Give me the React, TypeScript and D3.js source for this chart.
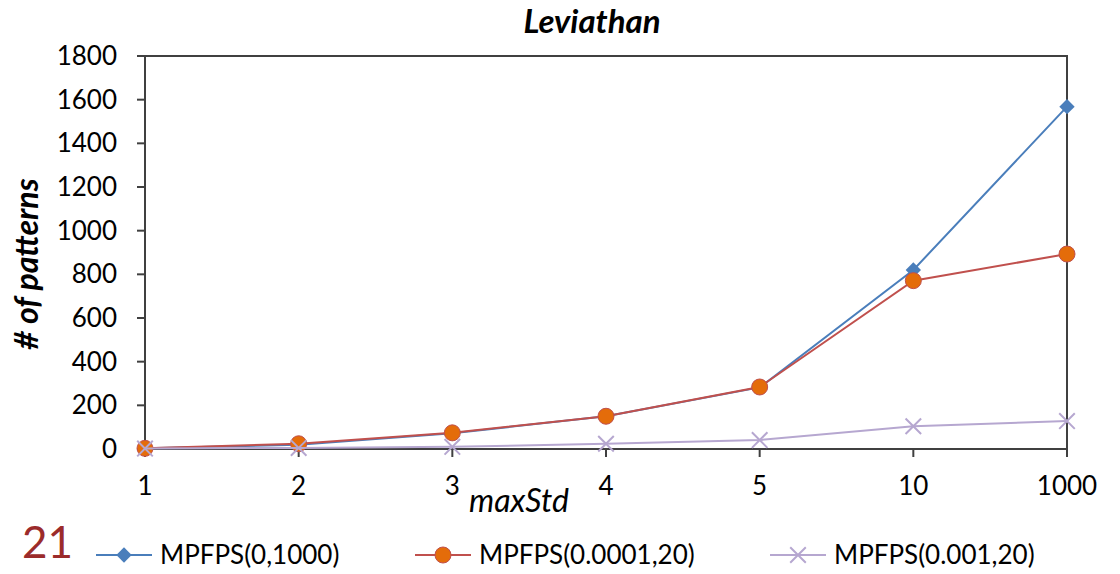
import React from "react";
import * as d3 from "d3";

const categories = ["1", "2", "3", "4", "5", "10", "1000"];
const seriesNames = ["MPFPS(0,1000)", "MPFPS(0.0001,20)", "MPFPS(0.001,20)"];
const blueValues = [3, 20, 72, 150, 282, 820, 1568];
const orangeValues = [3, 24, 74, 150, 284, 771, 893];
const purpleValues = [2, 5, 10, 24, 41, 104, 128];
const yTicks = [0, 200, 400, 600, 800, 1000, 1200, 1400, 1600, 1800];

const font = "Lato, 'Open Sans', sans-serif";
const axisColor = "#404040";

const margin = { top: 56, right: 53, bottom: 125, left: 145 };
const width = 1120 - margin.left - margin.right;
const height = 574 - margin.top - margin.bottom;

function App() {
  const x = d3.scalePoint().domain(categories).range([0, width]).padding(0);
  const y = d3.scaleLinear().domain([0, 1800]).range([height, 0]);

  const line = d3
    .line<number>()
    .x((d, i) => x(categories[i]) as number)
    .y((d) => y(d));

  const diamond = d3.symbol().type(d3.symbolDiamond2).size(150)();
  const cross = d3.symbol().type(d3.symbolX).size(160)();

  const series = [
    { name: seriesNames[0], values: blueValues, line: "#4a7ebb", kind: "diamond" },
    { name: seriesNames[1], values: orangeValues, line: "#c0504d", kind: "circle" },
    { name: seriesNames[2], values: purpleValues, line: "#b6a7d0", kind: "cross" },
  ];

  function marker(kind: string, cx: number, cy: number, key: any) {
    if (kind === "diamond")
      return <path key={key} d={diamond as string} transform={`translate(${cx},${cy})`} fill="#4a7ebb" />;
    if (kind === "circle")
      return <circle key={key} cx={cx} cy={cy} r={8} fill="#e46c0a" stroke="#c0504d" strokeWidth={1} />;
    return (
      <path key={key} d={cross as string} transform={`translate(${cx},${cy})`} fill="none" stroke="#b6a7d0" strokeWidth={2} />
    );
  }

  const legendX = [96, 415, 770];

  return (
    <svg width={1120} height={574} style={{ position: "absolute", left: 0, top: 0, background: "#fff" }}>
      <text x={592} y={33} textAnchor="middle" fontFamily={font} fontSize={33} fontWeight="bold" fontStyle="italic" fill="#000">
        Leviathan
      </text>
      <g transform={`translate(${margin.left},${margin.top})`}>
        <rect x={0} y={0} width={width} height={height} fill="none" stroke={axisColor} strokeWidth={2} />
        {yTicks.map((t) => (
          <g key={t}>
            <line x1={-8} x2={0} y1={y(t)} y2={y(t)} stroke={axisColor} strokeWidth={2} />
            <text x={-28} y={y(t)} dy="0.35em" textAnchor="end" fontFamily={font} fontSize={26} fill="#000">
              {t}
            </text>
          </g>
        ))}
        {categories.map((c) => (
          <g key={c}>
            <line x1={x(c)} x2={x(c)} y1={height} y2={height + 8} stroke={axisColor} strokeWidth={2} />
            <text x={x(c)} y={height + 46} textAnchor="middle" fontFamily={font} fontSize={26} fill="#000">
              {c}
            </text>
          </g>
        ))}
        {series.map((s) => (
          <g key={s.name}>
            <path d={line(s.values) as string} fill="none" stroke={s.line} strokeWidth={2} />
            {s.values.map((v, i) => marker(s.kind, x(categories[i]) as number, y(v), i))}
          </g>
        ))}
      </g>
      <text
        transform="translate(38,264) rotate(-90)"
        textAnchor="middle"
        fontFamily={font}
        fontSize={32}
        fontWeight="bold"
        fontStyle="italic"
        fill="#000"
      >
        # of patterns
      </text>
      <text x={519} y={512} textAnchor="middle" fontFamily={font} fontSize={32} fontStyle="italic" fill="#000">
        maxStd
      </text>
      <text x={22} y={558} fontFamily={font} fontSize={44} fill="#9b2b2b">
        21
      </text>
      {series.map((s, i) => (
        <g key={s.name} transform={`translate(${legendX[i]},555)`}>
          <line x1={0} x2={56} y1={0} y2={0} stroke={s.line} strokeWidth={2} />
          {marker(s.kind, 28, 0, "m")}
          <text x={64} y={0} dy="0.35em" fontFamily={font} fontSize={26} fill="#000">
            {s.name}
          </text>
        </g>
      ))}
    </svg>
  );
}

export default App;
